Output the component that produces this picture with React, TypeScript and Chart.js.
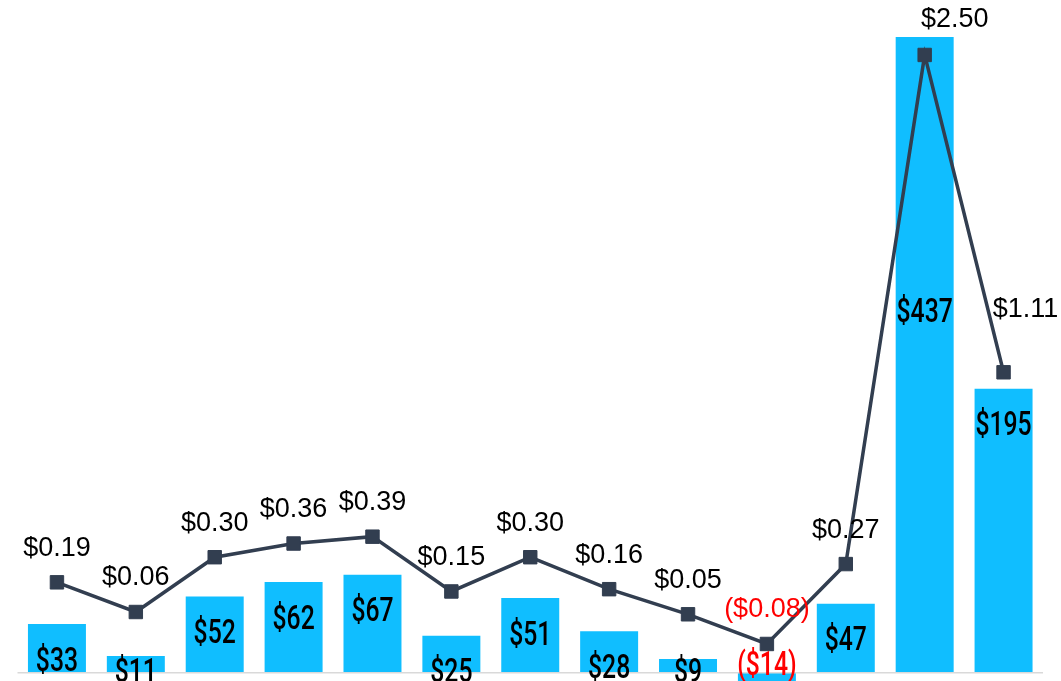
import React, { useEffect, useRef } from "react";
import { Chart, registerables } from "chart.js";

Chart.register(...registerables);

const categories = ["P1", "P2", "P3", "P4", "P5", "P6", "P7", "P8", "P9", "P10", "P11", "P12", "P13"];
const revenue = [33, 11, 52, 62, 67, 25, 51, 28, 9, -14, 47, 437, 195];
const eps = [0.19, 0.06, 0.3, 0.36, 0.39, 0.15, 0.3, 0.16, 0.05, -0.08, 0.27, 2.5, 1.11];

const BAR_COLOR = "#10BEFF";
const LINE_COLOR = "#323E50";

const W = 1061;
const H = 720;

const fmtBar = (v: number) => (v < 0 ? `($${Math.abs(v)})` : `$${v}`);
const fmtEps = (v: number) => (v < 0 ? `($${Math.abs(v).toFixed(2)})` : `$${v.toFixed(2)}`);

const labelPlugin = {
  id: "customLabels",
  afterDatasetsDraw(chart: any) {
    const { ctx, chartArea } = chart;
    const yScale = chart.scales.y;
    const zeroY = yScale.getPixelForValue(0);
    // baseline
    ctx.save();
    ctx.strokeStyle = "#D9D9D9";
    ctx.lineWidth = 1.5;
    ctx.beginPath();
    ctx.moveTo(chartArea.left, zeroY + 0.8);
    ctx.lineTo(chartArea.right, zeroY + 0.8);
    ctx.stroke();
    ctx.restore();

    // bar labels
    const barMeta = chart.getDatasetMeta(1);
    const maxVal = Math.max(...revenue);
    barMeta.data.forEach((el: any, i: number) => {
      const v = revenue[i];
      let cy: number;
      if (v < 0) cy = zeroY - 9;
      else if (v === maxVal) cy = el.y + 273;
      else cy = Math.min(el.y + 35, zeroY - 2);
      ctx.save();
      ctx.translate(el.x, cy + 11.7);
      ctx.scale(0.75, 1);
      ctx.font = "500 33px Roboto, 'Liberation Sans', sans-serif";
      ctx.fillStyle = v < 0 ? "#FF0000" : "#000000";
      ctx.textAlign = "center";
      ctx.textBaseline = "alphabetic";
      ctx.fillText(fmtBar(v), 0, 0);
      ctx.restore();
    });

    // line labels
    const lineMeta = chart.getDatasetMeta(0);
    const maxEps = Math.max(...eps);
    lineMeta.data.forEach((el: any, i: number) => {
      const v = eps[i];
      let dx = 0;
      let dy = -34;
      if (v === maxEps) {
        dx = 30;
        dy = -35;
      } else if (i === eps.length - 1) {
        dx = 22;
        dy = -63;
      }
      ctx.save();
      ctx.font = "27px 'Liberation Sans', Arial, sans-serif";
      ctx.fillStyle = v < 0 ? "#FF0000" : "#000000";
      ctx.textAlign = "center";
      ctx.textBaseline = "middle";
      ctx.fillText(fmtEps(v), el.x + dx, el.y + dy);
      ctx.restore();
    });
  },
};

export default function App() {
  const ref = useRef<HTMLCanvasElement | null>(null);

  useEffect(() => {
    if (!ref.current) return;
    const chart = new Chart(ref.current, {
      type: "bar",
      data: {
        labels: categories,
        datasets: [
          {
            type: "line",
            label: "EPS",
            data: eps,
            yAxisID: "y2",
            borderColor: LINE_COLOR,
            backgroundColor: LINE_COLOR,
            borderWidth: 3.5,
            pointStyle: "rect",
            pointRadius: 9.5,
            pointBorderWidth: 1,
            pointBackgroundColor: LINE_COLOR,
            pointBorderColor: LINE_COLOR,
            tension: 0,
            order: 0,
          } as any,
          {
            type: "bar",
            label: "Revenue",
            data: revenue,
            yAxisID: "y",
            backgroundColor: BAR_COLOR,
            barPercentage: 0.735,
            categoryPercentage: 1,
            order: 1,
          },
        ],
      },
      options: {
        responsive: false,
        animation: false,
        layout: { autoPadding: false, padding: { left: 17.5, right: 18, top: 0, bottom: 10 } },
        plugins: { legend: { display: false }, tooltip: { enabled: false } },
        scales: {
          x: { display: false, offset: true, grid: { display: false } },
          y: { display: false, min: -26.15, max: 462.46 },
          y2: { display: false, min: -0.3692, max: 2.7407, position: "right" },
        },
      } as any,
      plugins: [labelPlugin],
    });
    return () => chart.destroy();
  }, []);

  return (
    <div style={{ position: "fixed", left: 0, top: 0, width: W, height: 681, overflow: "hidden", background: "#fff" }}>
      <canvas ref={ref} width={W} height={H} style={{ display: "block", width: W, height: H }} />
    </div>
  );
}
